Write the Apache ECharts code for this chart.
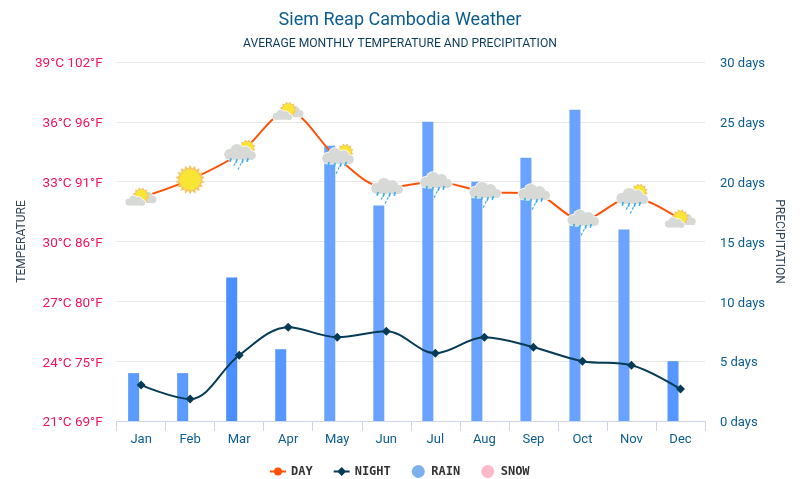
<!DOCTYPE html>
<html>
<head>
<meta charset="utf-8">
<style>
    html, body { margin: 0; padding: 0; background: #fff; }
    #chart { width: 800px; height: 479px; }
</style>
<script src="https://cdn.jsdelivr.net/npm/echarts@6/dist/echarts.min.js"></script>
</head>
<body>
<div id="chart"></div>
<script>
// 数据
var months = ['Jan', 'Feb', 'Mar', 'Apr', 'May', 'Jun', 'Jul', 'Aug', 'Sep', 'Oct', 'Nov', 'Dec'];
var dayTemp = [32.2, 33.1, 34.4, 36.5, 34.2, 32.7, 33.0, 32.5, 32.4, 31.1, 32.2, 31.1];
var nightTemp = [22.8, 22.1, 24.3, 25.7, 25.2, 25.5, 24.4, 25.2, 24.7, 24.0, 23.8, 22.6];
var rainDays = [4, 4, 12, 6, 23, 18, 25, 20, 22, 26, 16, 5];
var snowDays = [0, 0, 0, 0, 0, 0, 0, 0, 0, 0, 0, 0];
var weather = ['partly', 'sunny', 'rainsun', 'partly', 'rainsun', 'rain', 'rain', 'rain', 'rain', 'rain', 'rainsun', 'partly'];
var celsiusTicks = [21, 24, 27, 30, 33, 36, 39];
var fahrenheitTicks = [69, 75, 80, 86, 91, 96, 102];

// 柱子颜色(原图每根略有不同)
var rainColors = ['#5b9aff', '#5b9aff', '#4a8eff', '#5796ff', '#69a3ff', '#69a3ff', '#69a3ff', '#69a3ff', '#69a3ff', '#69a3ff', '#69a3ff', '#5596ff'];

// 天气小图标
let sunSvg = (cx, cy, r, spikes) => {
    let pts = [];
    for (let i = 0; i < spikes * 2; i++) {
        let a = Math.PI * i / spikes;
        let rr = i % 2 ? r * 1.42 : r * 1.08;
        pts.push((cx + rr * Math.cos(a)).toFixed(2) + ',' + (cy + rr * Math.sin(a)).toFixed(2));
    }
    return `<polygon points="${pts.join(' ')}" fill="#f6c667"/><circle cx="${cx}" cy="${cy}" r="${r}" fill="#f8e534"/>`;
}
let cloudSvg = (x, y, s) => {
    let shape = (fill, grow) =>
        `<g fill="${fill}"><circle cx="${x + 5 * s}" cy="${y + 8 * s}" r="${4.6 * s + grow}"/><circle cx="${x + 11 * s}" cy="${y + 4.8 * s}" r="${5.4 * s + grow}"/>` +
        `<circle cx="${x + 18 * s}" cy="${y + 6 * s}" r="${4.8 * s + grow}"/><circle cx="${x + 23 * s}" cy="${y + 9 * s}" r="${3.8 * s + grow}"/>` +
        `<rect x="${x + 4 * s - grow}" y="${y + 7 * s}" width="${20 * s + 2 * grow}" height="${5.6 * s + grow}" rx="${2 * s}"/></g>`;
    return shape('#ffffff', 0.7) + shape('#d7d9d6', 0);
}
let rainSvg = () => {
    let out = '';
    [[9, 23], [15, 24], [21, 24], [26, 23], [13, 28], [19, 28], [17, 32]].forEach((d, i) => {
        out += `<line x1="${d[0] + 0.7}" y1="${d[1]}" x2="${d[0]}" y2="${d[1] + (i < 4 ? 2.4 : 1.5)}" stroke="#45b0e8" stroke-width="${i < 4 ? 1.8 : 1.2}" stroke-linecap="round"/>`;
    });
    return out;
}
var iconBody = {
    sunny: sunSvg(18, 18, 10.5, 18),
    partly: cloudSvg(7, 11, 0.98) + sunSvg(18, 16, 6, 12) + cloudSvg(2, 16.5, 0.75),
    rainsun: sunSvg(26, 12, 6, 12) + cloudSvg(2.5, 9, 1.2) + rainSvg(),
    rain: cloudSvg(2.5, 9, 1.2) + rainSvg()
};
let iconUri = name => 'image://data:image/svg+xml;charset=utf-8,' + encodeURIComponent(
    `<svg xmlns="http://www.w3.org/2000/svg" width="72" height="72" viewBox="0 0 36 36">${iconBody[name]}</svg>`);

let chart = echarts.init(document.getElementById('chart'));
let FONT = 'Roboto';
let BLUE = '#0b5c8f';
// 图例: 线 + 点 (两个角上的小方块撑满图标范围,防止被拉伸)
let LEGEND_BOX = 'M0 0h0.01v0.01zM16 13h-0.01v-0.01z';
let LEGEND_DOT = 'path://' + LEGEND_BOX + 'M0 5.5H16V7.5H0ZM8 2.5a4 4 0 1 1 -0.01 0Z';
let LEGEND_DIAMOND = 'path://' + LEGEND_BOX + 'M0 5.5H16V7.5H0ZM8 2L12.5 6.5L8 11L3.5 6.5Z';

chart.setOption({
    animation: false,
    textStyle: { fontFamily: FONT },
    title: [
        { text: 'Siem Reap Cambodia Weather', left: 'center', top: 6, textStyle: { fontSize: 18, fontWeight: 'normal', color: '#0b5c8f', fontFamily: FONT } },
        { text: 'AVERAGE MONTHLY TEMPERATURE AND PRECIPITATION', left: 'center', top: 33, textStyle: { fontSize: 12.15, fontWeight: 'normal', color: '#0c3c5c', fontFamily: FONT } }
    ],
    grid: { left: 116.6, right: 95, top: 62, bottom: 58 },
    legend: {
        top: 460,
        left: 265,
        itemWidth: 16,
        itemHeight: 13,
        itemGap: 21,
        textStyle: { fontFamily: 'DejaVu Sans Mono', fontSize: 12, fontWeight: 'bold', color: '#333' },
        data: [
            { name: 'DAY', icon: LEGEND_DOT },
            { name: 'NIGHT', icon: LEGEND_DIAMOND },
            { name: 'RAIN', icon: 'circle', itemStyle: { color: '#7cb0ee' } },
            { name: 'SNOW', icon: 'circle', itemStyle: { color: '#ffb9cb' } }
        ]
    },
    xAxis: {
        type: 'category',
        data: months,
        axisLine: { show: true, lineStyle: { color: '#ccd6eb' } },
        axisTick: { show: true, length: 10, lineStyle: { color: '#ccd6eb' } },
        axisLabel: { color: BLUE, fontSize: 13, margin: 12 }
    },
    yAxis: [
        {
            type: 'value',
            min: 21,
            max: 39,
            interval: 3,
            name: 'TEMPERATURE',
            nameLocation: 'middle',
            nameGap: 89,
            nameMoveOverlap: false,
            nameTextStyle: { color: '#33475b', fontSize: 12 },
            axisLine: { show: false },
            axisTick: { show: false },
            splitLine: { lineStyle: { color: '#e6e6e6' } },
            axisLabel: {
                color: '#f5125f',
                fontSize: 13.5,
                margin: 14,
                verticalAlign: 'top',
                lineHeight: 4,
                formatter: v => v + '°C ' + fahrenheitTicks[celsiusTicks.indexOf(v)] + '°F'
            }
        },
        {
            type: 'value',
            min: 0,
            max: 30,
            interval: 5,
            name: 'PRECIPITATION',
            nameLocation: 'middle',
            nameGap: 68,
            nameMoveOverlap: false,
            nameRotate: -90,
            nameTextStyle: { color: '#33475b', fontSize: 12 },
            axisLine: { show: false },
            axisTick: { show: false },
            splitLine: { show: false },
            axisLabel: { color: BLUE, fontSize: 13, margin: 15, verticalAlign: 'top', lineHeight: 4, formatter: '{value} days' }
        }
    ],
    series: [
        {
            name: 'RAIN',
            type: 'bar',
            yAxisIndex: 1,
            barWidth: 11,
            barGap: '36%',
            itemStyle: { color: '#69a3ff' },
            z: 1,
            data: rainDays.map((v, i) => ({ value: v, itemStyle: { color: rainColors[i] } }))
        },
        {
            name: 'SNOW',
            type: 'bar',
            yAxisIndex: 1,
            barWidth: 11,
            barGap: '36%',
            itemStyle: { color: '#ffb9cb' },
            z: 1,
            data: snowDays
        },
        {
            name: 'DAY',
            type: 'line',
            smooth: 0.35,
            symbol: 'circle',
            symbolSize: 36,
            lineStyle: { color: '#ff5208', width: 2 },
            itemStyle: { color: '#ff5208' },
            z: 3,
            data: dayTemp.map((v, i) => ({ value: v, symbol: iconUri(weather[i]) }))
        },
        {
            name: 'NIGHT',
            type: 'line',
            smooth: 0.35,
            symbol: 'diamond',
            symbolSize: 9,
            lineStyle: { color: '#073b55', width: 2 },
            itemStyle: { color: '#073b55' },
            z: 4,
            data: nightTemp
        }
    ]
});
</script>
</body>
</html>
